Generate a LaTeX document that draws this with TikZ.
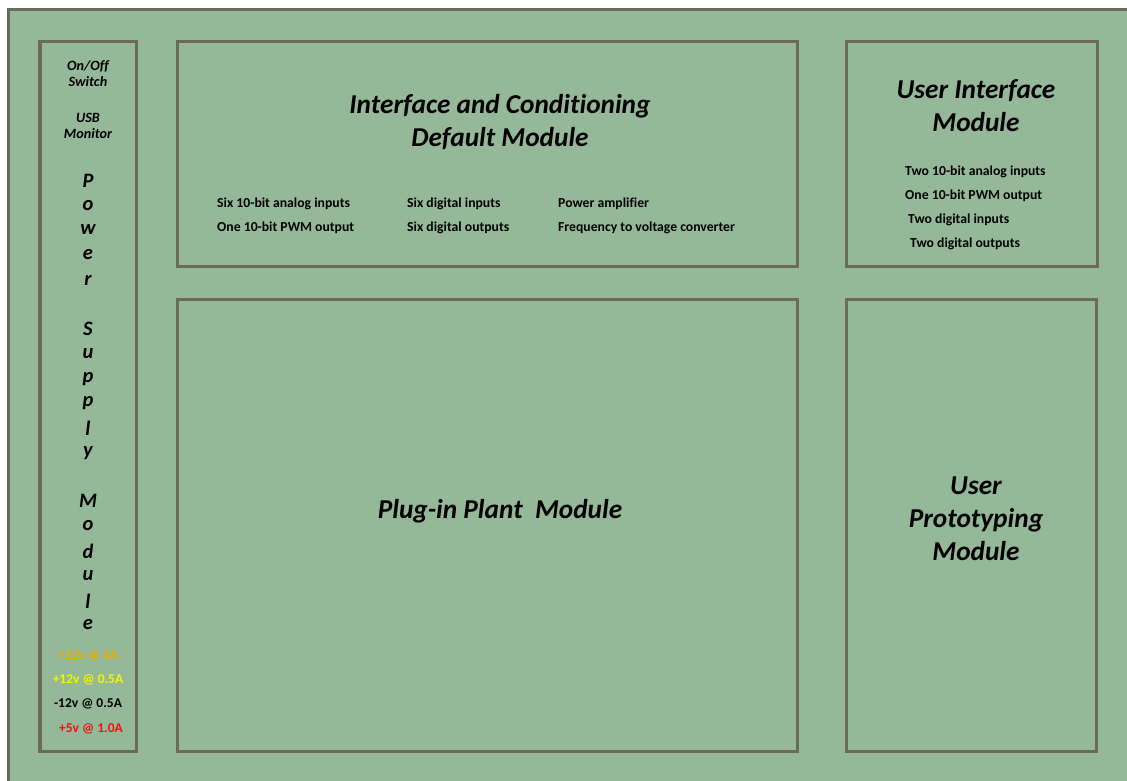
\documentclass[tikz,border=0pt]{standalone}
\usepackage{fontspec}
\setmainfont[Ligatures=NoCommon]{Carlito}
\definecolor{panel}{HTML}{94B898}
\definecolor{rim}{HTML}{6B6B56}
\definecolor{amber}{HTML}{EBB000}
\definecolor{lemon}{HTML}{F5F500}
\definecolor{hot}{HTML}{F21010}
\tikzset{
  module/.style={draw=rim, line width=3.5pt},
  heading/.style={font=\fontsize{27.3}{33}\selectfont\bfseries\itshape, align=center},
  feature/.style={font=\fontsize{13.7}{15}\selectfont\bfseries, anchor=west, inner sep=0pt},
  psutag/.style={font=\fontsize{14.2}{16}\selectfont\bfseries\itshape, align=center},
  psuletter/.style={font=\fontsize{20.5}{22}\selectfont\bfseries\itshape, inner sep=0pt},
  rail/.style={font=\fontsize{13.5}{15}\selectfont\bfseries, inner sep=0pt}
}
\begin{document}
\begin{tikzpicture}[x=1pt,y=-1pt]
\useasboundingbox (0,0) rectangle (1127,781);
% outer board
\fill[white] (0,0) rectangle (1127,781);
\draw[draw=rim, line width=3pt, fill=panel] (8.5,9.5) rectangle (1145,800);

% module outlines
\draw[module] (40,41.5) rectangle (136.5,751.5);
\draw[module] (177.5,41.5) rectangle (797.5,266.5);
\draw[module] (846.5,41.5) rectangle (1097.5,266.5);
\draw[module] (177.5,299.5) rectangle (797.5,751.5);
\draw[module] (846.5,299.5) rectangle (1096.5,751.5);

% power supply column
\node[psutag] (sw) at (88,74) {On/Off\\Switch};
\node[psutag] (usb) at (88,126) {USB\\Monitor};
\foreach \ch/\yy [count=\i] in {P/181,o/206,w/230,e/255,r/280,
    S/329,u/354,p/379,p/403,l/428,y/453,
    M/501,o/526,d/551,u/576,l/601,e/625}
  \node[psuletter] (psu\i) at (88,\yy) {\ch};
\node[rail, text=amber] (r1) at (88,656) {+12v @ 3A};
\node[rail, text=lemon] (r2) at (88,680) {+12v @ 0.5A};
\node[rail, text=black] (r3) at (88,704) {-12v @ 0.5A};
\node[rail, text=hot] (r4) at (91,729) {+5v @ 1.0A};

% interface and conditioning module
\node[heading] (ich) at (500,122) {Interface and Conditioning\\Default Module};
\node[feature] (f1) at (217,203.5) {Six 10-bit analog inputs};
\node[feature] (f2) at (217,227.5) {One 10-bit PWM output};
\node[feature] (f3) at (407,203.5) {Six digital inputs};
\node[feature] (f4) at (407,227.5) {Six digital outputs};
\node[feature] (f5) at (558,203.5) {Power amplifier};
\node[feature] (f6) at (558,227.5) {Frequency to voltage converter};

% user interface module
\node[heading] (uih) at (976,106) {User Interface\\Module};
\node[feature] (u1) at (905,171.5) {Two 10-bit analog inputs};
\node[feature] (u2) at (905,195.5) {One 10-bit PWM output};
\node[feature] (u3) at (908,219.5) {Two digital inputs};
\node[feature] (u4) at (910,243.5) {Two digital outputs};

% plant and prototyping modules
\node[heading] (pph) at (500,511) {Plug-in Plant\ \ Module};
\node[heading] (uph) at (976,519) {User\\Prototyping\\Module};
\end{tikzpicture}
\end{document}
